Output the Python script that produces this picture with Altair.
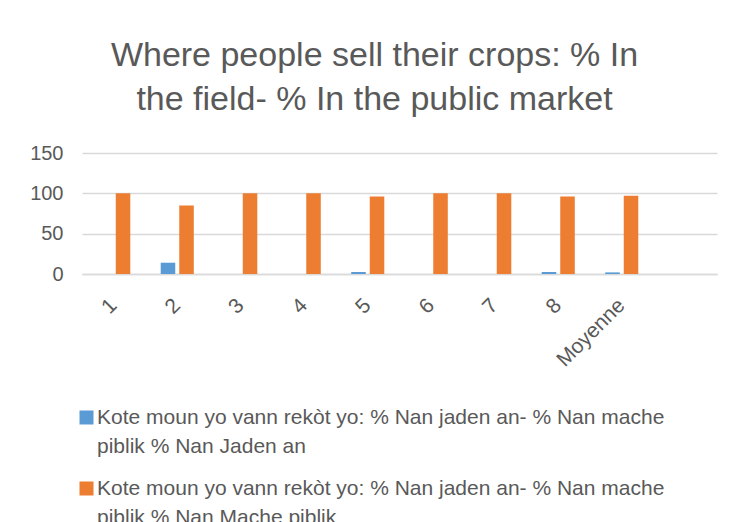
import altair as alt
import pandas as pd

categories = ["1", "2", "3", "4", "5", "6", "7", "8", "Moyenne"]
axis_slots = categories + [" "]
series_field = "Kote moun yo vann rekòt yo: % Nan jaden an- % Nan mache piblik % Nan Jaden an"
series_market = "Kote moun yo vann rekòt yo: % Nan jaden an- % Nan mache piblik % Nan Mache piblik"
values_field = [0, 14, 0, 0, 2.5, 0, 0, 2.5, 2]
values_market = [100, 85, 100, 100, 96, 100, 100, 96, 97]
title_lines = ["Where people sell their crops: % In", "the field- % In the public market"]
y_ticks = [0, 50, 100, 150]
colors = ["#5B9BD5", "#ED7D31"]

rows = []
for c, a, b in zip(categories, values_field, values_market):
    rows.append({"cat": c, "series": series_field, "value": a})
    rows.append({"cat": c, "series": series_market, "value": b})
df = pd.DataFrame(rows)

FONT = "Liberation Sans"
TXT = "#595959"
GRID = "#d9d9d9"

label_expr = ("[substring(datum.label, 0, indexof(datum.label, ' piblik')), "
              "substring(datum.label, indexof(datum.label, ' piblik') + 1)]")

chart = alt.Chart(df).mark_bar().encode(
    x=alt.X(
        "cat:N",
        sort=axis_slots,
        scale=alt.Scale(domain=axis_slots, paddingInner=0, paddingOuter=0),
        axis=alt.Axis(
            title=None, labelAngle=-45, labelAlign="right", labelBaseline="middle",
            labelPadding=28, ticks=False, tickSize=0, domainColor=GRID, domainWidth=1.5,
            labelFontSize=21, labelColor=TXT, labelFont=FONT, grid=False,
        ),
    ),
    xOffset=alt.XOffset(
        "series:N",
        scale=alt.Scale(domain=[series_field, series_market], paddingInner=0.216, paddingOuter=0.82),
    ),
    y=alt.Y(
        "value:Q",
        scale=alt.Scale(domain=[0, 150]),
        axis=alt.Axis(
            title=None, values=y_ticks, ticks=False, tickSize=0, domain=False,
            labelPadding=19, labelFontSize=20, labelColor=TXT, labelFont=FONT,
            gridColor=GRID, gridWidth=1.5,
        ),
    ),
    color=alt.Color(
        "series:N",
        scale=alt.Scale(domain=[series_field, series_market], range=colors),
        legend=alt.Legend(
            orient="none", legendX=-6, legendY=254, title=None, labelExpr=label_expr,
            labelLimit=0, labelFontSize=21, labelColor=TXT, labelFont=FONT,
            symbolType="square", symbolSize=196, symbolStrokeWidth=0, labelOffset=0,
            rowPadding=20,
        ),
    ),
).properties(
    width=635,
    height=121,
    title=alt.TitleParams(
        text=title_lines, fontSize=34, font=FONT, color=TXT, fontWeight="normal",
        anchor="middle", dx=-25, offset=26, lineHeight=44,
    ),
    autosize=alt.AutoSizeParams(type="none"),
    padding={"left": 74, "top": 145, "right": 10, "bottom": 248},
).configure(
    font=FONT,
    style={"guide-label": {"lineHeight": 29}},
).configure_view(stroke=None)

chart.save("out.html", embed_options={"renderer": "svg", "actions": False})
